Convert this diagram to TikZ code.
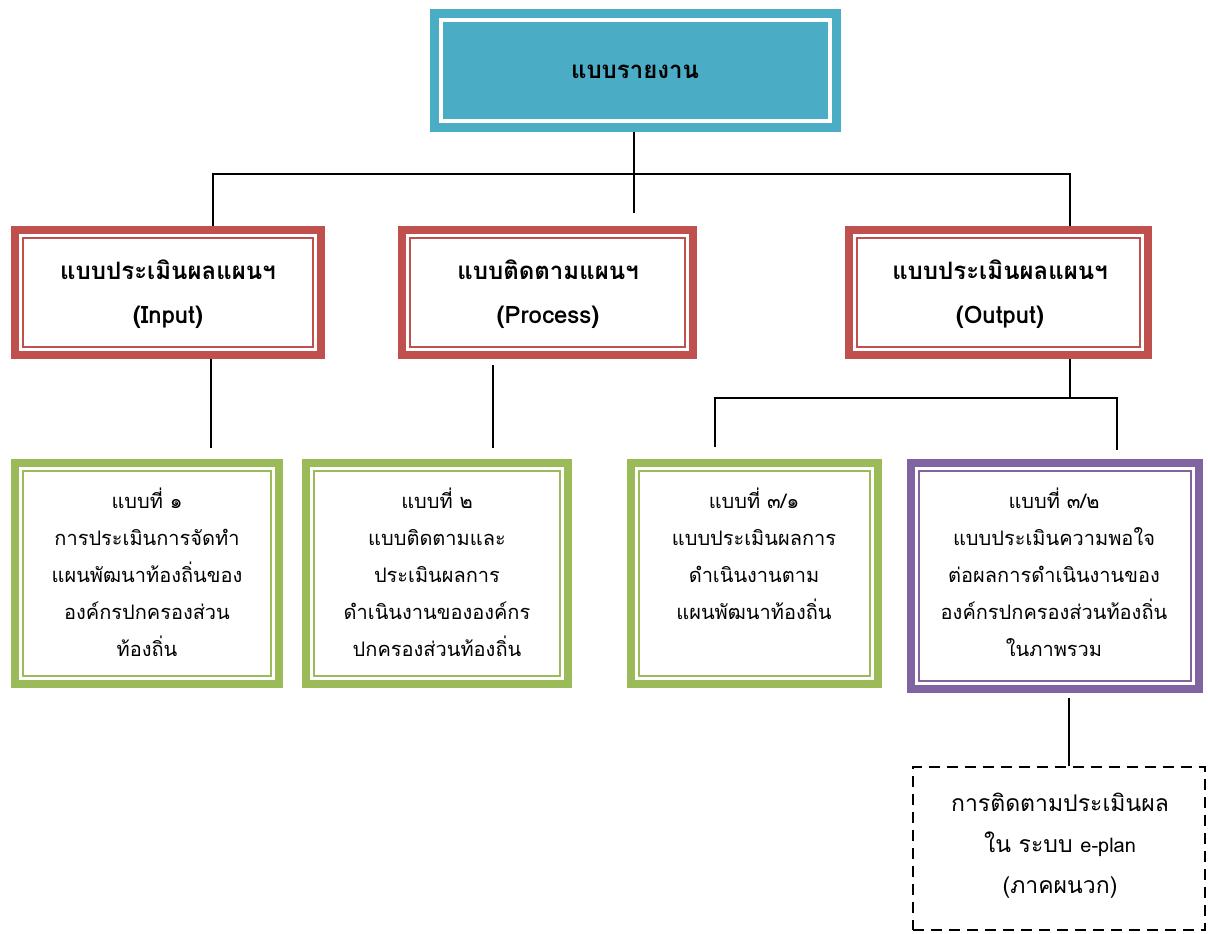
\documentclass[tikz,border=0pt]{standalone}
\usepackage{fontspec}
\newfontfamily\thai[Script=Thai]{Loma}
\definecolor{tealc}{HTML}{4BACC6}
\definecolor{redc}{HTML}{C0504D}
\definecolor{greenc}{HTML}{9BBB59}
\definecolor{purplec}{HTML}{8064A2}
\tikzset{
  frame/.style={draw=#1, line width=8pt, fill=white, rectangle, inner sep=0pt},
  inline/.style={draw=#1, line width=2.2pt},
  conn/.style={draw=black, line width=2pt},
  head/.style={font=\thai\bfseries\fontsize{24}{44}\selectfont, align=center, inner sep=0pt},
  body/.style={font=\thai\fontsize{20}{37}\selectfont, align=center, inner sep=0pt, anchor=north},
  dashbox/.style={draw=black, line width=2.6pt, dash pattern=on 11pt off 7pt, rectangle, inner sep=0pt}
}
\begin{document}
\begin{tikzpicture}[x=1pt,y=1pt]
\useasboundingbox (0,0) rectangle (1208,-934);
% top box
\node[fill=tealc, minimum width=411pt, minimum height=123pt, inner sep=0pt, outer sep=0pt] (top) at (635.5,-70.5) {};
\draw[white, line width=4pt] ([xshift=11pt,yshift=-11pt]top.north west) rectangle ([xshift=-11pt,yshift=11pt]top.south east);
\node[head] (toptext) at (635,-72) {แบบรายงาน};
% level 2
\node[frame=redc, minimum width=306.3pt, minimum height=125.3pt] (r1) at (167.85,-292.35) {};
\node[frame=redc, minimum width=291pt, minimum height=125.3pt] (r2) at (547.8,-292.35) {};
\node[frame=redc, minimum width=298.7pt, minimum height=125.3pt] (r3) at (998.35,-292.35) {};
% level 3
\node[frame=greenc, minimum width=264.6pt, minimum height=221pt] (g1) at (147,-573.5) {};
\node[frame=greenc, minimum width=262.3pt, minimum height=221pt] (g2) at (437.15,-573.5) {};
\node[frame=greenc, minimum width=246.4pt, minimum height=221pt] (g3) at (754.5,-573.5) {};
\node[frame=purplec, minimum width=288.6pt, minimum height=226pt] (p) at (1055,-576) {};
% dashed box
\node[dashbox, minimum width=292pt, minimum height=163pt] (d) at (1059,-848.5) {};
% inner lines
\foreach \n/\c in {r1/redc, r2/redc, r3/redc, g1/greenc, g2/greenc, g3/greenc, p/purplec}
  \draw[inline=\c] ([xshift=12pt,yshift=-12pt]\n.north west) rectangle ([xshift=-12pt,yshift=12pt]\n.south east);
% texts
\node[head] (r1t) at (168,-294) {แบบประเมินผลแผนฯ\\(Input)};
\node[head] (r2t) at (548,-294) {แบบติดตามแผนฯ\\(Process)};
\node[head] (r3t) at (1000,-294) {แบบประเมินผลแผนฯ\\(Output)};
\node[body] (g1t) at (147,-488) {แบบที่ ๑\\การประเมินการจัดทำ\\แผนพัฒนาท้องถิ่นของ\\องค์กรปกครองส่วน\\ท้องถิ่น};
\node[body] (g2t) at (437,-488) {แบบที่ ๒\\แบบติดตามและ\\ประเมินผลการ\\ดำเนินงานขององค์กร\\ปกครองส่วนท้องถิ่น};
\node[body] (g3t) at (754,-488) {แบบที่ ๓/๑\\แบบประเมินผลการ\\ดำเนินงานตาม\\แผนพัฒนาท้องถิ่น};
\node[body] (pt) at (1054,-488) {แบบที่ ๓/๒\\แบบประเมินความพอใจ\\ต่อผลการดำเนินงานของ\\องค์กรปกครองส่วนท้องถิ่น\\ในภาพรวม};
\node[body, font=\thai\fontsize{23}{41}\selectfont, anchor=center] (dt) at (1060,-846) {การติดตามประเมินผล\\ใน ระบบ {\fontsize{20}{41}\selectfont e-plan}\\(ภาคผนวก)};
% connectors
\coordinate (tb) at (634,-213);
\coordinate (h1) at (213,-174);
\coordinate (h2) at (1070,-174);
\coordinate (c1) at (211,-448);
\coordinate (c2a) at (493,-365);
\coordinate (c2) at (493,-448);
\coordinate (c3) at (1070,-398);
\coordinate (c3l) at (715,-398);
\coordinate (c3r) at (1117,-398);
\coordinate (c3lb) at (715,-447);
\coordinate (c3rb) at (1117,-450);
\coordinate (pd) at (1069,-698);
\draw[conn] (tb |- top.south) -- (tb);
\draw[conn] (h1 |- r1.north) -- (h1) -- (h2) -- (h2 |- r3.north);
\draw[conn] (c1 |- r1.south) -- (c1);
\draw[conn] (c2a) -- (c2);
\draw[conn] (c3 |- r3.south) -- (c3);
\draw[conn] (c3lb) -- (c3l) -- (c3r) -- (c3rb);
\draw[conn] (pd) -- (pd |- d.north);
\end{tikzpicture}
\end{document}
